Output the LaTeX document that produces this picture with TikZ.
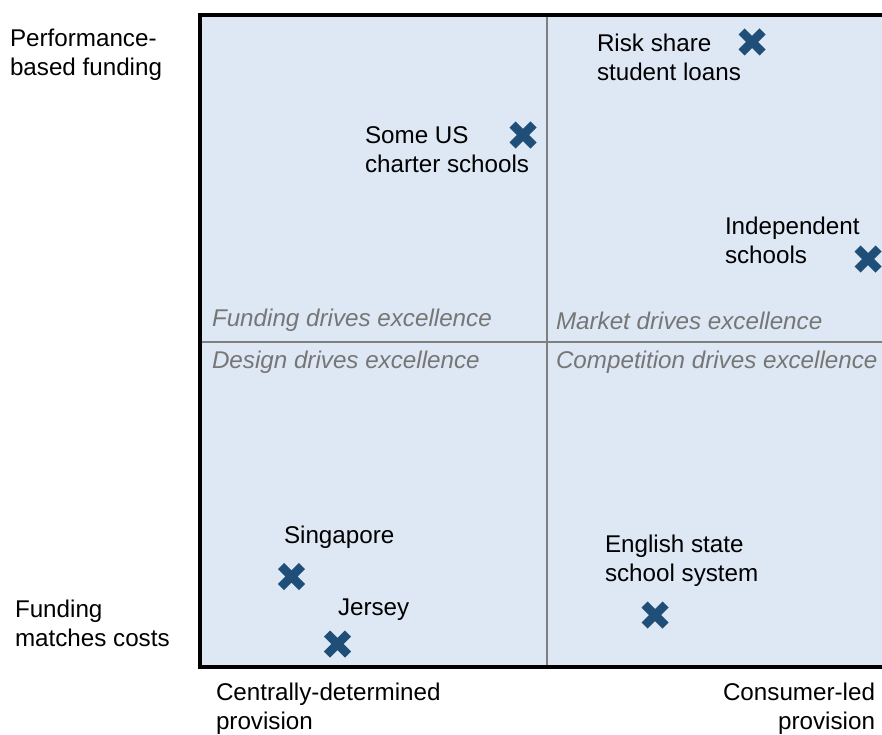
\documentclass[tikz,border=0pt]{standalone}
\usepackage{fontspec}
\setmainfont{Liberation Sans}
\definecolor{quadfill}{HTML}{DDE8F4}
\definecolor{markblue}{HTML}{1F4E79}
\definecolor{gridgray}{HTML}{7F7F7F}
\definecolor{labelgray}{HTML}{767676}
\tikzset{
  % multi-line nodes are placed by the baseline of their last line
  txt/.style={inner sep=0pt, outer sep=0pt, align=left, anchor=base west,
    font=\fontsize{24.2bp}{29bp}\selectfont, text=black},
  txtr/.style={txt, align=right, anchor=base east},
  quadlabel/.style={txt, font=\fontsize{24.2bp}{29bp}\selectfont\itshape, text=labelgray},
  xmark/.pic={\draw[markblue, line width=8.5bp] (-10.5,-10.5) -- (10.5,10.5) (-10.5,10.5) -- (10.5,-10.5);}
}
\begin{document}
\begin{tikzpicture}[x=1bp, y=-1bp]
\useasboundingbox (0,0) rectangle (882,735);
\clip (0,0) rectangle (882,735);
% quadrant area
\fill[quadfill] (200,15) rectangle (895,667);
\draw[gridgray, line width=2bp] (546.5,15) -- (546.5,667);
\draw[gridgray, line width=2bp] (200,341.5) -- (895,341.5);
\draw[black, line width=3.5bp] (895,15) -- (200,15) -- (200,667) -- (895,667);

% axis labels
\node[txt] (perf) at (10,76) {Performance-\\based funding};
\node[txt] (costs) at (15,646) {Funding\\matches costs};
\node[txt] (central) at (216,729) {Centrally-determined\\provision};
\node[txtr] (consumer) at (875,729) {Consumer-led\\provision};

% quadrant labels
\node[quadlabel] (qfund) at (212,326) {Funding drives excellence};
\node[quadlabel] (qmarket) at (556,329) {Market drives excellence};
\node[quadlabel] (qdesign) at (212,368) {Design drives excellence};
\node[quadlabel] (qcomp) at (556,368) {Competition drives excellence};

% examples
\node[txt] (risk) at (597,81) {Risk share\\student loans};
\node[txt] (charter) at (365,173) {Some US\\charter schools};
\node[txt] (indep) at (725,263) {Independent\\schools};
\node[txt] (sing) at (284,543) {Singapore};
\node[txt] (jersey) at (338,615) {Jersey};
\node[txt] (english) at (605,581) {English state\\school system};

% markers
\pic at (752,42) {xmark};
\pic at (523,135) {xmark};
\pic at (868,259) {xmark};
\pic at (291.5,576.5) {xmark};
\pic at (337.5,644) {xmark};
\pic at (655,615) {xmark};
\end{tikzpicture}
\end{document}
